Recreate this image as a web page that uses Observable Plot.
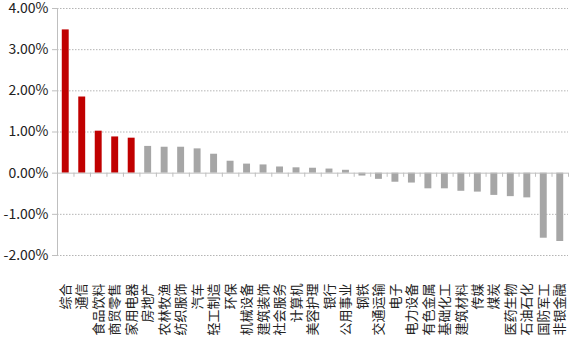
<!DOCTYPE html>
<html>
<head>
<meta charset="utf-8">
<script src="https://cdn.jsdelivr.net/npm/d3@7"></script>
<script src="https://cdn.jsdelivr.net/npm/@observablehq/plot@0.6"></script>
<style>
  html, body { margin: 0; padding: 0; background: #fff; }
  #chart { width: 579px; height: 351px; overflow: hidden; }
</style>
</head>
<body>
<div id="chart"></div>
<script>
const categories = ["综合","通信","食品饮料","商贸零售","家用电器","房地产","农林牧渔","纺织服饰","汽车","轻工制造","环保","机械设备","建筑装饰","社会服务","计算机","美容护理","银行","公用事业","钢铁","交通运输","电子","电力设备","有色金属","基础化工","建筑材料","传媒","煤炭","医药生物","石油石化","国防军工","非银金融"];
const values = [3.48,1.85,1.02,0.88,0.85,0.65,0.63,0.63,0.59,0.46,0.29,0.22,0.20,0.15,0.13,0.12,0.10,0.07,-0.07,-0.15,-0.22,-0.24,-0.38,-0.38,-0.44,-0.46,-0.54,-0.57,-0.60,-1.58,-1.66];
const highlighted = ["综合","通信","食品饮料","商贸零售","家用电器"];
const yTicks = [-2,-1,0,1,2,3,4];
const gridTicks = [-2,-1,1,2,3,4];

const data = categories.map((c, i) => ({name: c, value: values[i], hi: highlighted.includes(c)}));

const W = 579, H = 351;
const mL = 57, mR = 11, mT = 8, mB = 96;
const step = (W - mL - mR) / categories.length;
const font = "'Noto Sans CJK SC', 'Noto Sans', sans-serif";

const chart = Plot.plot({
  width: W,
  height: H,
  marginLeft: mL,
  marginRight: mR,
  marginTop: mT,
  marginBottom: mB,
  style: {fontFamily: font, background: "#fff", color: "#222", overflow: "visible"},
  x: {domain: categories, paddingInner: 0.58, paddingOuter: 0.29, round: false},
  y: {domain: [-2, 4], ticks: yTicks},
  marks: [
    Plot.ruleY(gridTicks, {stroke: "#b5b5b5", strokeWidth: 1, strokeDasharray: "1.5,1.5"}),
    Plot.barY(data, {x: "name", y: "value", fill: d => d.hi ? "#c00000" : "#a6a6a6"}),
    Plot.ruleY([0], {stroke: "#bfbfbf", strokeWidth: 1}),
    Plot.ruleX(categories, {x: d => d, y1: 0, y2: -0.1, dx: -step / 2, stroke: "#bfbfbf"}),
    Plot.ruleX([categories[categories.length - 1]], {x: d => d, y1: 0, y2: -0.1, dx: step / 2, stroke: "#bfbfbf"}),
    Plot.axisY({
      ticks: yTicks,
      tickFormat: d => d.toFixed(2) + "%",
      tickSize: 5,
      tickPadding: 4,
      stroke: "#bfbfbf",
      fontSize: 14,
      label: null,
      color: "#222"
    }),
    Plot.frame({anchor: "left", stroke: "#bfbfbf"}),
    Plot.axisX({
      anchor: "bottom",
      tickSize: 0,
      tickPadding: 28,
      tickRotate: -90,
      fontSize: 13,
      label: null,
      color: "#222"
    })
  ]
});

document.getElementById("chart").appendChild(chart);
</script>
</body>
</html>
